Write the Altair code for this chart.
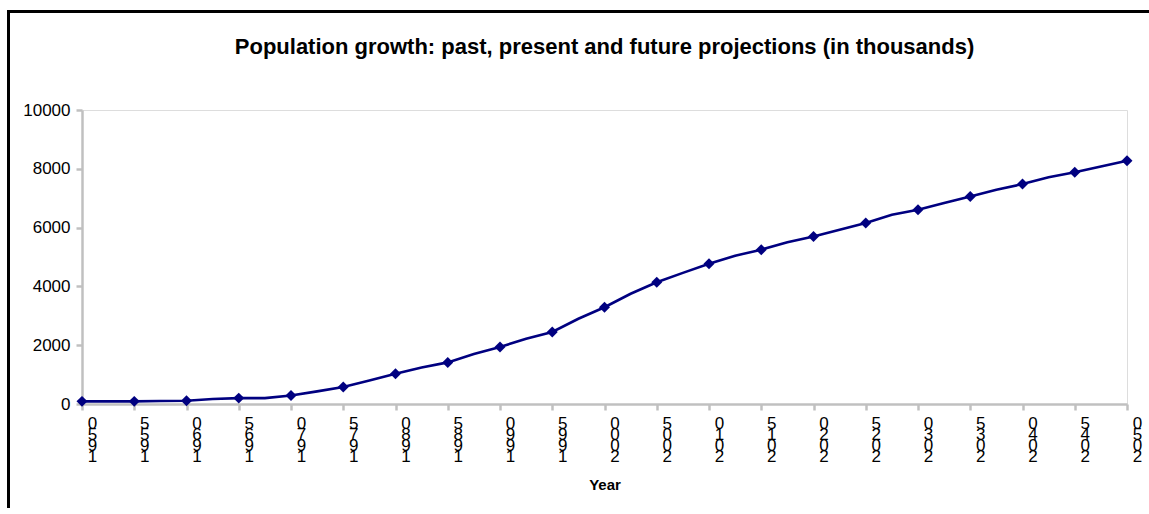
import altair as alt
import pandas as pd

# Years (every 2.5 years) and population in thousands
years = [1950, 1952.5, 1955, 1957.5, 1960, 1962.5, 1965, 1967.5, 1970, 1972.5,
         1975, 1977.5, 1980, 1982.5, 1985, 1987.5, 1990, 1992.5, 1995, 1997.5,
         2000, 2002.5, 2005, 2007.5, 2010, 2012.5, 2015, 2017.5, 2020, 2022.5,
         2025, 2027.5, 2030, 2032.5, 2035, 2037.5, 2040, 2042.5, 2045, 2047.5,
         2050]
population = [90, 90, 90, 100, 110, 170, 200, 200, 290, 430,
              580, 800, 1030, 1245, 1415, 1700, 1940, 2220, 2450, 2900,
              3290, 3750, 4140, 4460, 4770, 5045, 5250, 5500, 5700, 5930,
              6155, 6440, 6610, 6840, 7060, 7290, 7480, 7710, 7880, 8080,
              8275]
tick_years = list(range(1950, 2051, 5))
y_ticks = [0, 2000, 4000, 6000, 8000, 10000]

title_text = "Population growth: past, present and future projections (in thousands)"
x_title = "Year"

df = pd.DataFrame({"year": years, "value": population})

FONT = "Liberation Sans"
NAVY = "#000080"
AXIS_GREY = "#c0c0c0"

x_enc = alt.X(
    "year:Q",
    scale=alt.Scale(domain=[1950, 2050], nice=False, zero=False),
    axis=alt.Axis(
        title=x_title,
        values=tick_years,
        format="d",
        labelExpr="[substring(datum.label,3,4), substring(datum.label,2,3), substring(datum.label,1,2), substring(datum.label,0,1)]",
        labelAngle=0,
        labelAlign="center",
        labelBaseline="top",
        labelLineHeight=11,
        labelOffset=10,
        labelPadding=5,
        labelFontSize=17,
        labelFont=FONT,
        labelColor="black",
        labelOverlap=False,
        labelFlush=False,
        grid=False,
        domainColor=AXIS_GREY,
        domainWidth=2.5,
        tickColor=AXIS_GREY,
        tickWidth=2.5,
        tickSize=6,
        titleFont=FONT,
        titleFontSize=15,
        titleFontWeight="bold",
        titleColor="black",
        titlePadding=13,
    ),
)

y_enc = alt.Y(
    "value:Q",
    scale=alt.Scale(domain=[0, 10000], nice=False),
    axis=alt.Axis(
        title=None,
        values=y_ticks,
        format="d",
        labelFontSize=17,
        labelFont=FONT,
        labelColor="black",
        labelPadding=6,
        grid=False,
        domainColor=AXIS_GREY,
        domainWidth=2.5,
        tickColor=AXIS_GREY,
        tickWidth=2.5,
        tickSize=6,
    ),
)

base = alt.Chart(df)

line = base.mark_line(color=NAVY, strokeWidth=2.6).encode(x=x_enc, y=y_enc)

points = base.transform_filter("datum.year % 5 == 0").mark_point(
    shape="diamond", filled=True, size=120, color=NAVY, opacity=1
).encode(x="year:Q", y="value:Q")

frame_src = pd.DataFrame({"f": [0]})
frame_top = alt.Chart(frame_src).mark_rect(color="black", strokeWidth=0).encode(
    x=alt.value(-75), x2=alt.value(1067),
    y=alt.value(-100), y2=alt.value(-97),
)
frame_left = alt.Chart(frame_src).mark_rect(color="black", strokeWidth=0).encode(
    x=alt.value(-75), x2=alt.value(-72),
    y=alt.value(-100), y2=alt.value(404),
)

chart = alt.layer(frame_top, frame_left, line, points).properties(
    width=1045,
    height=294,
    autosize=alt.AutoSizeParams(type="none"),
    padding={"left": 82, "top": 110, "right": 22, "bottom": 104},
    title=alt.Title(
        text=title_text,
        font=FONT,
        fontSize=22,
        fontWeight="bold",
        color="black",
        anchor="middle",
        baseline="alphabetic",
        offset=-65.5,
    ),
).configure_view(stroke=None).configure(background="white")

chart.save("out.html", embed_options={"renderer": "svg", "actions": False})
